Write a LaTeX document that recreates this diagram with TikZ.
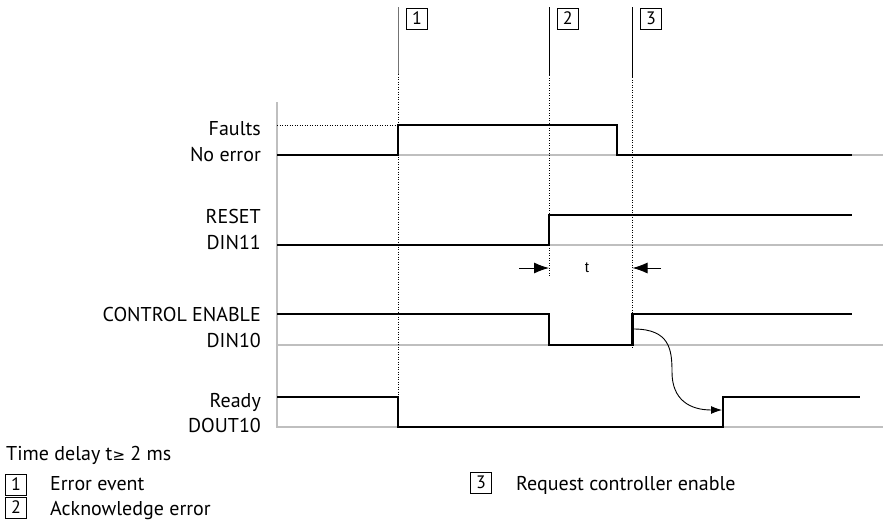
\documentclass[tikz,border=0pt]{standalone}
\usepackage{fontspec}
\setmainfont{PT Sans}
\newfontfamily\arialfont{Liberation Sans}
\newfontfamily\symfont{DejaVu Sans}
\usetikzlibrary{arrows.meta}
\begin{document}
\begin{tikzpicture}[x=1pt,y=-1pt,
  sig/.style={line width=2.2pt, line join=miter, line cap=butt},
  gline/.style={draw=black!25, line width=1.1pt},
  axisline/.style={draw=black!25, line width=2.4pt},
  dots/.style={line width=1pt, dash pattern=on 1.2pt off 1.3pt},
  lab/.style={anchor=base east, font=\fontsize{20}{20}\selectfont, inner sep=0pt},
  legtext/.style={anchor=base west, font=\fontsize{20}{20}\selectfont, inner sep=0pt},
  numbox/.style={draw, line width=0.7pt, minimum width=21.5pt, minimum height=21pt, inner sep=0pt, font=\fontsize{18}{18}\selectfont},
  dimarrow/.style={line width=0.9pt, -{Latex[length=15pt,width=11pt]}},
  curvearrow/.style={line width=0.9pt, -{Latex[length=11pt,width=8pt]}}]
\useasboundingbox (0,0) rectangle (883,522);

% grey baselines
\draw[gline] (277,155) -- (883,155);
\draw[gline] (549,245) -- (883,245);
\draw[gline] (277,345) -- (883,345);
\draw[gline] (277,427) -- (883,427);
\draw[axisline] (277,102) -- (277,428);

% time markers
\coordinate (m1top) at (398,7);
\coordinate (m1mid) at (398,74);
\coordinate (m1bot) at (398,427);
\coordinate (m2top) at (549,7);
\coordinate (m2mid) at (549,75);
\coordinate (m2bot) at (549,276);
\coordinate (m3top) at (632.5,7);
\coordinate (m3mid) at (632.5,77);
\coordinate (m3bot) at (632.5,348);
\draw[draw=black!55, line width=1pt] (m1top) -- (m1mid);
\draw[dots] (m1mid) -- (m1bot);
\draw[line width=1pt] (m2top) -- (m2mid);
\draw[dots] (m2mid) -- (m2bot);
\draw[line width=1pt] (m3top) -- (m3mid);
\draw[dots] (m3mid) -- (m3bot);
\node[numbox] (b1) at (417,18.5) {1};
\node[numbox] (b2) at (567.7,18.5) {2};
\node[numbox] (b3) at (651,18.5) {3};

% Faults
\draw[dots] (277,125) -- (398,125);
\draw[sig] (277,155) -- (398,155) -- (398,125) -- (617,125) -- (617,155) -- (852,155);
% RESET
\draw[sig] (277,245) -- (549,245) -- (549,215) -- (852,215);
% CONTROL ENABLE
\draw[sig] (277,314) -- (549,314) -- (549,345) -- (632.5,345) -- (632.5,314) -- (852,314);
% Ready
\draw[sig] (277,397) -- (398,397) -- (398,427) -- (723,427) -- (723,397) -- (860,397);

% labels
\node[lab] (lf) at (261,135) {Faults};
\node[lab] (lne) at (261,161) {No error};
\node[lab] (lr) at (261,223) {RESET};
\node[lab] (ld11) at (261,249) {DIN11};
\node[lab] (lce) at (261,321) {CONTROL ENABLE};
\node[lab] (ld10) at (261,347) {DIN10};
\node[lab] (lrd) at (261,407) {Ready};
\node[lab] (ldo) at (261,432) {DOUT10};

% t dimension
\coordinate (tl0) at (519,268);
\coordinate (tl1) at (549,268);
\coordinate (tr0) at (661,268);
\coordinate (tr1) at (632.5,268);
\draw[dimarrow] (tl0) -- (tl1);
\draw[dimarrow] (tr0) -- (tr1);
\node[font=\arialfont\fontsize{15}{15}\selectfont, inner sep=0pt] (tlab) at (587,268) {t};

% causal curve
\coordinate (cs) at (633.5,329);
\coordinate (ce) at (722,410);
\draw[curvearrow] (cs) .. controls (670,329) and (672,350) .. (672,372) .. controls (672,400) and (690,410) .. (ce);

% legend
\node[legtext] (td) at (6,460) {Time delay t{\symfont\fontsize{15}{15}\selectfont≥} 2 ms};
\node[numbox] (lb1) at (16,484.5) {1};
\node[legtext] (l1) at (50,490) {Error event};
\node[numbox] (lb2) at (16,507.5) {2};
\node[legtext] (l2) at (50,515) {Acknowledge error};
\node[numbox] (lb3) at (481,482.5) {3};
\node[legtext] (l3) at (516,490) {Request controller enable};
\end{tikzpicture}
\end{document}
